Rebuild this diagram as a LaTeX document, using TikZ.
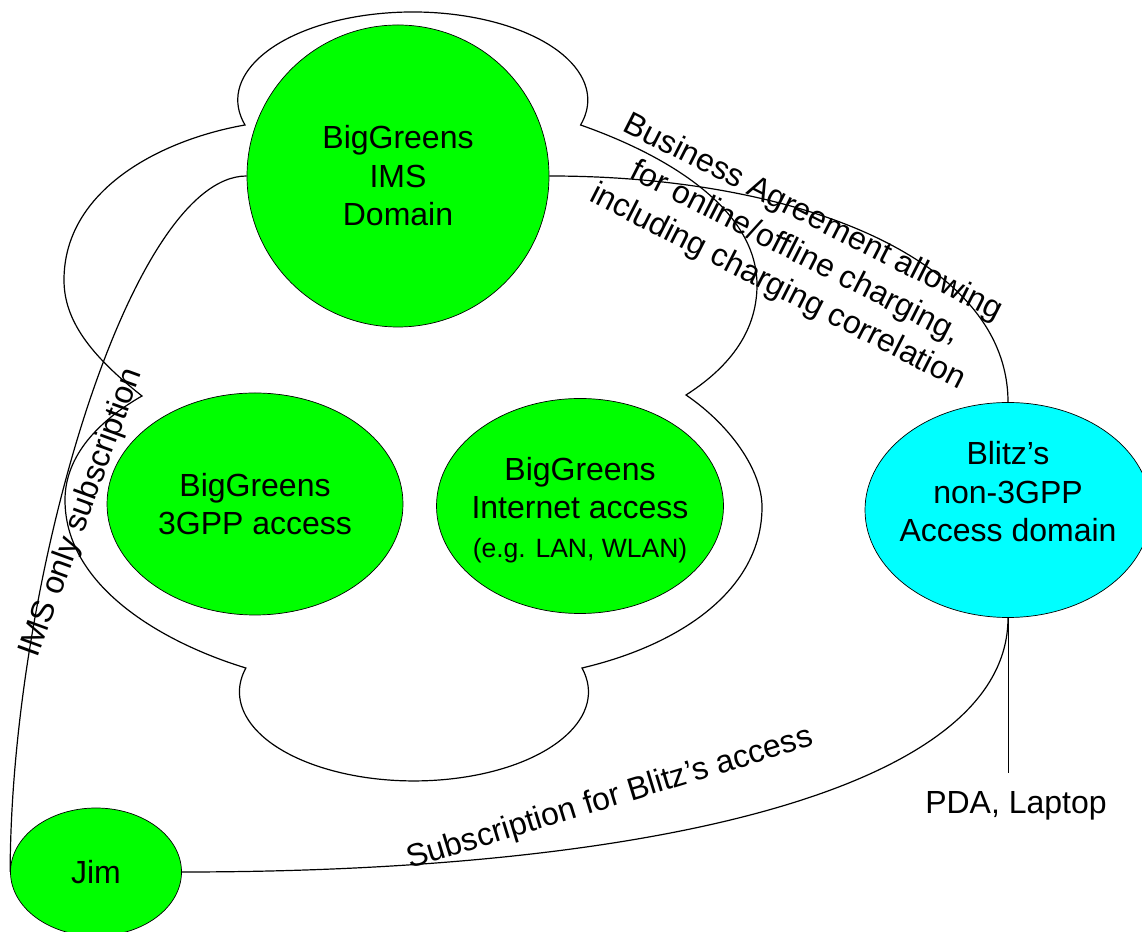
\documentclass[tikz,border=0pt]{standalone}
\usepackage{fontspec}
\setmainfont{Liberation Sans}
\usetikzlibrary{shapes.geometric}
\definecolor{bggreen}{RGB}{0,255,0}
\definecolor{blitzcyan}{RGB}{0,255,255}
\tikzset{
	dom/.style={ellipse, draw, line width=0.7pt, fill=bggreen, inner sep=0pt, align=center},
	link/.style={line width=1.2pt},
	lbl/.style={align=center, inner sep=0pt}
}

\begin{document}
\begin{tikzpicture}[x=1pt, y=1pt, font=\fontsize{32}{38.5}\selectfont]
				\useasboundingbox (0,0) rectangle (1142,931);
				
				\draw[link] (245,806) arc[start angle=196.5, end angle=-16.5, x radius=175pt, y radius=88pt]
					.. controls (680,771) and (757,716) .. (757,646)
					.. controls (757,596) and (725,561) .. (686,536)
					.. controls (730,506) and (762,461) .. (762,424)
					.. controls (762,341) and (680,286) .. (582,263)
					arc[start angle=15.6, end angle=-195.6, x radius=174.5pt, y radius=89pt]
					.. controls (170,286) and (65,341) .. (65,431)
					.. controls (65,476) and (100,511) .. (142,535)
					.. controls (90,576) and (64,611) .. (64,651)
					.. controls (64,741) and (160,791) .. (245,806) -- cycle;
				
				\node[dom, minimum width=302pt, minimum height=302pt] (IMS) at (398,755) {BigGreens\\IMS\\Domain};
				\node[dom, minimum width=296pt, minimum height=222pt] (TGPP) at (255,427) {BigGreens\\3GPP access};
				\node[dom, minimum width=287pt, minimum height=215pt] (INET) at (580,425) {};
				\node[lbl] (INETt) at (580,421) {BigGreens\\Internet access\\{\fontsize{26.5}{32}\selectfont (e.g. LAN, WLAN)}};
				\node[dom, fill=blitzcyan, minimum width=286pt, minimum height=215pt] (BLITZ) at (1008,421) {};
				\node[lbl] (BLITZt) at (1008,439) {Blitz’s\\non-3GPP\\Access domain};
				\node[dom, minimum width=171pt, minimum height=128pt] (JIM) at (96,59) {Jim};
				
				\draw[link] (JIM.west) .. controls (11,351) and (130,755) .. (IMS.west);
				\draw[link] (IMS.east) .. controls (800,755) and (1008,671) .. (BLITZ.north);
				\draw[link] (JIM.east) .. controls (650,59) and (1008,141) .. (BLITZ.south);
				
				\coordinate (tip) at (1008,158);
				\draw[line width=0.9pt] (BLITZ.south) -- (tip);
				\node (PDA) at (1016,125) {PDA, Laptop};
				
				\node[lbl, rotate=70] (imsonly) at (82,418) {IMS only subscription};
				\node[lbl, rotate=-27, font=\fontsize{32}{39}\selectfont] (biz) at (795,678) {Business Agreement allowing\\for online/offline charging,\\including charging correlation};
				\node[lbl, rotate=17] (subs) at (610,132) {Subscription for Blitz’s access};
			\end{tikzpicture}
\end{document}
